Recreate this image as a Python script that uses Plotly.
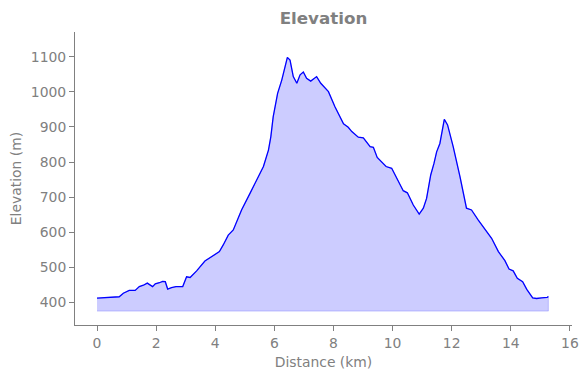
import plotly.graph_objects as go

distance_km = [0.0, 0.75, 0.89, 1.09, 1.29, 1.43, 1.57, 1.70, 1.88, 1.97, 2.11, 2.22, 2.31, 2.39,
               2.52, 2.67, 2.90, 3.03, 3.15, 3.37, 3.65, 3.88, 4.14, 4.27, 4.44, 4.61, 4.89,
               5.18, 5.40, 5.63, 5.80, 5.88, 5.96, 6.11, 6.25, 6.44, 6.53, 6.64, 6.76, 6.87,
               6.98, 7.09, 7.23, 7.43, 7.57, 7.83, 8.05, 8.34, 8.50, 8.62, 8.84, 9.01, 9.24,
               9.35, 9.48, 9.63, 9.78, 9.97, 10.14, 10.25, 10.36, 10.50, 10.70, 10.90, 11.04,
               11.15, 11.29, 11.40, 11.49, 11.60, 11.75, 11.86, 12.05, 12.28, 12.50, 12.67,
               12.90, 13.35, 13.58, 13.80, 13.94, 14.08, 14.22, 14.40, 14.54, 14.74, 14.87,
               15.04, 15.23, 15.27]
elevation_m = [411, 415, 425, 433, 433, 444, 448, 454, 444, 452, 455, 459, 458, 437,
               441, 444, 444, 472, 470, 489, 517, 529, 544, 563, 591, 606, 663,
               711, 749, 787, 834, 872, 929, 996, 1034, 1099, 1091, 1044, 1025, 1049,
               1057, 1039, 1031, 1044, 1025, 1001, 958, 909, 899, 887, 871, 869, 844,
               842, 813, 801, 787, 782, 753, 734, 718, 712, 677, 651, 668,
               696, 763, 796, 829, 853, 922, 906, 844, 758, 668, 663,
               634, 582, 544, 518, 494, 489, 468, 458, 436, 412, 410,
               412, 413, 416]
fill_base_m = 374

x_ticks = [0, 2, 4, 6, 8, 10, 12, 14, 16]
y_ticks = [400, 500, 600, 700, 800, 900, 1000, 1100]

grey = "#808080"
font_family = "DejaVu Sans"

fig = go.Figure()
fig.add_trace(go.Scatter(
    x=distance_km + distance_km[::-1],
    y=elevation_m + [fill_base_m] * len(distance_km),
    fill="toself", fillcolor="rgba(0,0,255,0.2)",
    line=dict(color="rgba(0,0,255,0.2)", width=1),
    mode="lines", hoverinfo="skip", showlegend=False))
fig.add_trace(go.Scatter(
    x=distance_km, y=elevation_m, mode="lines",
    line=dict(color="blue", width=1.3), showlegend=False))

axis_common = dict(
    showgrid=False, zeroline=False, showline=True, linecolor=grey, linewidth=1,
    ticks="outside", ticklen=5, tickcolor=grey, tickwidth=1,
    tickfont=dict(family=font_family, size=13.9, color=grey),
    mirror=False, automargin=False)

# page body has an 8px default margin, so the figure sits at (8, 8)
fig.update_layout(
    width=588, height=378,
    margin=dict(l=67, r=24, t=24, b=61),
    paper_bgcolor="white", plot_bgcolor="white",
    title=dict(text="<b>Elevation</b>", x=(67 + 564) / 2 / 588, xanchor="center",
               y=1 - 10 / 378, yanchor="middle", yref="container",
               font=dict(family=font_family, size=16.7, color=grey)),
    xaxis=dict(range=[-0.745, 16.07], tickvals=x_ticks,
               title=dict(text="Distance (km)", standoff=7,
                          font=dict(family=font_family, size=13.9, color=grey)),
               **axis_common),
    yaxis=dict(range=[334.3, 1171.4], tickvals=y_ticks,
               title=dict(text="Elevation (m)",
                          font=dict(family=font_family, size=13.9, color=grey)),
               **axis_common),
)

fig.write_html("out.html")
